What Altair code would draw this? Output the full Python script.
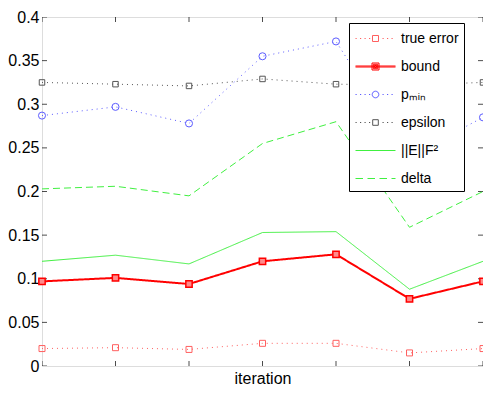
import altair as alt
import pandas as pd

iterations = [1, 2, 3, 4, 5, 6, 7]
true_error = [0.020, 0.021, 0.019, 0.026, 0.026, 0.015, 0.020]
bound = [0.097, 0.101, 0.094, 0.120, 0.128, 0.077, 0.097]
p_min = [0.287, 0.297, 0.278, 0.355, 0.372, 0.240, 0.285]
epsilon = [0.325, 0.323, 0.321, 0.329, 0.323, 0.322, 0.325]
e_norm = [0.120, 0.127, 0.117, 0.153, 0.154, 0.088, 0.120]
delta = [0.203, 0.206, 0.195, 0.255, 0.280, 0.159, 0.200]

series_names = ["true error", "bound", "pₘᵢₙ", "epsilon", "||E||F²", "delta"]
series_values = [true_error, bound, p_min, epsilon, e_norm, delta]
y_ticks = [0, 0.05, 0.1, 0.15, 0.2, 0.25, 0.3, 0.35, 0.4]

colors = ["#ff6060", "#ff0000", "#5c5cff", "#555555", "#40f040", "#40f040"]
dashes = [[1, 4], [1, 0], [1, 4], [1, 4], [1, 0], [7, 4]]
widths = [1, 2, 1, 1, 1, 1]
marker_shapes = ["square", "square", "circle", "square", None, None]
marker_sizes = [36, 40, 50, 30, 0, 0]

FONT = "Liberation Sans"

rows = []
for name, vals in zip(series_names, series_values):
    for it, v in zip(iterations, vals):
        rows.append({"iteration": it, "value": v, "series": name})
df = pd.DataFrame(rows)


# ---- legend symbol paths (unit = 10 px with symbolSize 400) ----
def dotted(excl=0.0, period=0.45, dot=0.12):
    parts = []
    x = -2.0
    while x < 2.0:
        if abs(x + dot / 2) > excl:
            parts.append(f"M{x:.2f},0L{x + dot:.2f},0")
        x += period
    return "".join(parts)


def dashed(dash=0.75, gap=0.45):
    parts = []
    x = -2.0
    while x < 2.0:
        parts.append(f"M{x:.2f},0L{min(x + dash, 2.0):.2f},0")
        x += dash + gap
    return "".join(parts)


def square(r):
    return f"M{-r},{-r}L{r},{-r}L{r},{r}L{-r},{r}Z"


def circle(r):
    return f"M{r},0A{r},{r} 0 1,1 {-r},0A{r},{r} 0 1,1 {r},0Z"


legend_paths = [
    dotted(0.4) + square(0.3),
    "M-2,-0.05L2,-0.05M-2,0.05L2,0.05" + square(0.35) + square(0.22) + square(0.1),
    dotted(0.45) + circle(0.33),
    dotted(0.4) + square(0.28),
    "M-2,0L2,0",
    dashed(),
]

x_scale = alt.Scale(domain=[1, 7], nice=False, zero=False)
y_scale = alt.Scale(domain=[0, 0.4], nice=False)

x_enc = alt.X(
    "iteration:Q",
    scale=x_scale,
    axis=alt.Axis(
        title="iteration", labels=False, ticks=False, domain=False, grid=False,
        titleFontSize=16, titleFont=FONT, titleFontWeight="normal",
        titleColor="black", titlePadding=4,
    ),
)
y_enc = alt.Y(
    "value:Q",
    scale=y_scale,
    axis=alt.Axis(
        title=None, values=y_ticks, format=".2~f", ticks=False, domain=False,
        grid=False, labelFontSize=16, labelFont=FONT, labelColor="black",
        labelPadding=3,
    ),
)

layers = []
for i, name in enumerate(series_names):
    base = alt.Chart(df).transform_filter(alt.datum.series == name)
    layers.append(
        base.mark_line(
            color=colors[i], strokeDash=dashes[i], strokeWidth=widths[i]
        ).encode(x=x_enc, y=y_enc)
    )
    if marker_shapes[i] is not None:
        if name == "bound":
            pt = base.mark_point(
                shape="square", filled=True, fill="#ff8a8a", stroke="#ff0000",
                strokeWidth=1.5, size=marker_sizes[i], opacity=1,
            )
        else:
            pt = base.mark_point(
                shape=marker_shapes[i], filled=False, color=colors[i],
                strokeWidth=1, size=marker_sizes[i], opacity=1,
            )
        layers.append(pt.encode(x=x_enc, y=y_enc))

# legend-only layer
legend = alt.Legend(
    title=None, orient="none", legendX=307, legendY=6,
    strokeColor="black", fillColor="white", padding=5,
    symbolSize=400, symbolOffset=11, symbolOpacity=1, symbolStrokeWidth=1,
    labelOffset=15, rowPadding=10, labelFontSize=14, labelFont=FONT,
    labelColor="black", labelLimit=300,
    labelExpr="datum.label + '\u00a0\u00a0\u00a0\u00a0\u00a0'",
)
legend_layer = alt.Chart(df).mark_point(filled=False, opacity=0).encode(
    x=x_enc,
    y=y_enc,
    color=alt.Color("series:N", sort=series_names,
                    scale=alt.Scale(domain=series_names, range=colors),
                    legend=legend),
    shape=alt.Shape("series:N", sort=series_names,
                    scale=alt.Scale(domain=series_names, range=legend_paths),
                    legend=legend),
)
layers.append(legend_layer)

# inward tick marks on all four sides
yt = pd.DataFrame({"t": y_ticks})
xt = pd.DataFrame({"t": iterations})
tick_style = dict(color="black", thickness=1, size=10, clip=True)
left_ticks = alt.Chart(yt).mark_tick(orient="horizontal", **tick_style).encode(
    x=alt.datum(1, scale=x_scale), y=alt.Y("t:Q", scale=y_scale))
right_ticks = alt.Chart(yt).mark_tick(orient="horizontal", **tick_style).encode(
    x=alt.datum(7, scale=x_scale), y=alt.Y("t:Q", scale=y_scale))
bottom_ticks = alt.Chart(xt).mark_tick(orient="vertical", **tick_style).encode(
    x=alt.X("t:Q", scale=x_scale), y=alt.datum(0, scale=y_scale))
top_ticks = alt.Chart(xt).mark_tick(orient="vertical", **tick_style).encode(
    x=alt.X("t:Q", scale=x_scale), y=alt.datum(0.4, scale=y_scale))

chart = alt.layer(
    left_ticks, right_ticks, bottom_ticks, top_ticks, *layers
).properties(
    width=441, height=349,
    autosize=alt.AutoSizeParams(type="none"),
    padding={"left": 34, "top": 9, "right": 0, "bottom": 19},
).configure_view(
    stroke="black", strokeWidth=1
).configure(background="white")

chart.save("out.html", embed_options={"renderer": "svg", "actions": False})
